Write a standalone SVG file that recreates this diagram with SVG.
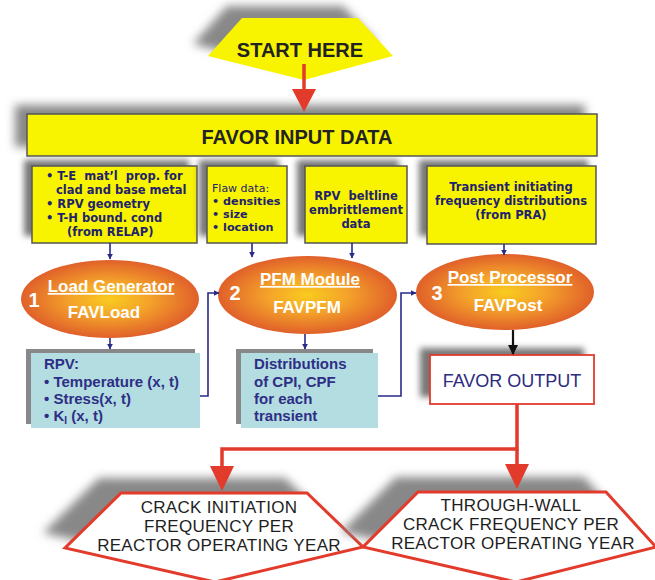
<svg xmlns="http://www.w3.org/2000/svg" width="655" height="580" viewBox="0 0 655 580">
<defs>
  <filter id="blur" x="-20%" y="-20%" width="140%" height="140%"><feGaussianBlur stdDeviation="3"/></filter>
  <filter id="blur2" x="-20%" y="-20%" width="140%" height="140%"><feGaussianBlur stdDeviation="5"/></filter>
  <radialGradient id="orange" cx="50%" cy="50%" r="50%">
    <stop offset="0" stop-color="#f9cc1e"/>
    <stop offset="0.45" stop-color="#f4a22a"/>
    <stop offset="1" stop-color="#e0602a"/>
  </radialGradient>
  <marker id="navyArrow" viewBox="0 0 10 10" refX="9" refY="5" markerWidth="6" markerHeight="6" markerUnits="userSpaceOnUse" orient="auto">
    <path d="M0,0 L10,5 L0,10 z" fill="#2a2a88"/>
  </marker>
  <marker id="blackArrow" viewBox="0 0 10 10" refX="9" refY="5" markerWidth="10" markerHeight="10" markerUnits="userSpaceOnUse" orient="auto">
    <path d="M0,0 L10,5 L0,10 z" fill="#111"/>
  </marker>
</defs>
<style>
  .yel { fill: #f8f400; stroke: #555; stroke-width: 1.5; }
  .shadow { fill: #777; filter: url(#blur); }
  .shadow2 { fill: #888; filter: url(#blur2); }
  .ytxt { font-family: "DejaVu Sans", Verdana, sans-serif; font-weight: bold; font-size: 11.5px; fill: #22226e; }
  .ytxt11 { font-family: "DejaVu Sans", Verdana, sans-serif; font-weight: bold; font-size: 11.2px; fill: #22226e; }
  .ytxtn { font-family: "DejaVu Sans", Verdana, sans-serif; font-size: 11px; fill: #22226e; }
  .big { font-family: "Liberation Sans", Arial, sans-serif; font-weight: bold; font-size: 20px; fill: #222; }
  .ell { fill: url(#orange); }
  .etxt { font-family: "Liberation Sans", Arial, sans-serif; font-weight: bold; font-size: 17px; fill: #fff; }
  .num { font-family: "Liberation Sans", Arial, sans-serif; font-weight: bold; font-size: 20px; fill: #fff; }
  .blue { fill: #b3dde0; }
  .bshadow { fill: #888; }
  .btxt { font-family: "Liberation Sans", Arial, sans-serif; font-weight: bold; font-size: 15px; fill: #2e2e86; }
  .hex { fill: #fff; stroke: #e23b2c; stroke-width: 3; stroke-linejoin: miter; }
  .htxt { font-family: "Liberation Sans", Arial, sans-serif; font-size: 17px; letter-spacing: 0.3px; fill: #1e1e1e; }
  .navy { fill: none; stroke: #2a2a88; stroke-width: 1.6; }
  .red { fill: none; stroke: #e23b2c; stroke-width: 3.5; }
</style>

<g id="start">
  <polygon class="shadow2" points="227,6 343,6 378,44 289,68 193,44"/>
  <polygon points="242,18 358,18 393,56 304,80 208,56" fill="#f8f400"/>
  <text class="big" x="300" y="57" text-anchor="middle">START HERE</text>
</g>

<g id="favor-input">
  <rect class="shadow2" x="15" y="105" width="570" height="42"/>
  <rect class="yel" x="27" y="114" width="570" height="42"/>
  <text class="big" x="297" y="144" text-anchor="middle">FAVOR INPUT DATA</text>
</g>

<g id="box-te">
  <rect class="shadow" x="24" y="160" width="165" height="76"/>
  <rect class="yel" x="32" y="166" width="165" height="77"/>
  <text class="ytxt" x="46" y="180" xml:space="preserve">• T-E  mat’l  prop. for</text>
  <text class="ytxt" x="56" y="194">clad and base metal</text>
  <text class="ytxt" x="46" y="208">• RPV geometry</text>
  <text class="ytxt" x="46" y="222">• T-H bound. cond</text>
  <text class="ytxt" x="67" y="236">(from RELAP)</text>
</g>

<g id="box-flaw">
  <rect class="shadow" x="199" y="160" width="80" height="76"/>
  <rect class="yel" x="207" y="166" width="80" height="77"/>
  <text class="ytxtn" x="212" y="192">Flaw data:</text>
  <text class="ytxt11" x="212" y="205">• densities</text>
  <text class="ytxt11" x="212" y="218">• size</text>
  <text class="ytxt11" x="212" y="231">• location</text>
</g>

<g id="box-rpv">
  <rect class="shadow" x="297" y="160" width="102" height="76"/>
  <rect class="yel" x="305" y="166" width="102" height="77"/>
  <text class="ytxt" x="356" y="200" text-anchor="middle" xml:space="preserve">RPV  beltline</text>
  <text class="ytxt" x="356" y="214" text-anchor="middle">embrittlement</text>
  <text class="ytxt" x="356" y="228" text-anchor="middle">data</text>
</g>

<g id="box-transient">
  <rect class="shadow" x="419" y="160" width="169" height="76"/>
  <rect class="yel" x="427" y="166" width="169" height="78"/>
  <text class="ytxt" x="511" y="191" text-anchor="middle">Transient initiating</text>
  <text class="ytxt" x="511" y="205" text-anchor="middle">frequency distributions</text>
  <text class="ytxt" x="511" y="219" text-anchor="middle">(from PRA)</text>
</g>

<g id="load-generator">
  <ellipse class="ell" cx="110" cy="299" rx="89" ry="39"/>
  <text class="etxt" x="111" y="292" text-anchor="middle" text-decoration="underline">Load Generator</text>
  <text class="etxt" x="104" y="318" text-anchor="middle">FAVLoad</text>
  <text class="num" x="34" y="307" text-anchor="middle">1</text>
</g>

<g id="pfm-module">
  <ellipse class="ell" cx="307.5" cy="295" rx="89.5" ry="39"/>
  <text class="etxt" x="310" y="285" text-anchor="middle" text-decoration="underline">PFM Module</text>
  <text class="etxt" x="307" y="313" text-anchor="middle">FAVPFM</text>
  <text class="num" x="235" y="300" text-anchor="middle">2</text>
</g>

<g id="post-processor">
  <ellipse class="ell" cx="505" cy="292" rx="89" ry="38"/>
  <text class="etxt" x="510" y="283" text-anchor="middle" text-decoration="underline">Post Processor</text>
  <text class="etxt" x="508" y="311" text-anchor="middle">FAVPost</text>
  <text class="num" x="437" y="300" text-anchor="middle">3</text>
</g>

<g id="rpv-output">
  <rect class="bshadow" x="26" y="349" width="169" height="75"/>
  <rect class="blue" x="31" y="353" width="169" height="75"/>
  <text class="btxt" x="44" y="369">RPV:</text>
  <text class="btxt" x="44" y="387">• Temperature (x, t)</text>
  <text class="btxt" x="44" y="404">• Stress(x, t)</text>
  <text class="btxt" x="44" y="421">• K<tspan font-size="10" dy="3">I</tspan><tspan dy="-3"> (x, t)</tspan></text>
</g>

<g id="distributions">
  <rect class="bshadow" x="236" y="349" width="137" height="75"/>
  <rect class="blue" x="241" y="353" width="137" height="75"/>
  <text class="btxt" x="254" y="369">Distributions</text>
  <text class="btxt" x="254" y="387">of CPI, CPF</text>
  <text class="btxt" x="254" y="404">for each</text>
  <text class="btxt" x="254" y="421">transient</text>
</g>

<g id="favor-output">
  <rect class="shadow" x="420" y="348" width="164" height="49"/>
  <rect x="430" y="355" width="164" height="49" fill="#fff" stroke="#e23b2c" stroke-width="1.8"/>
  <text x="512" y="387" text-anchor="middle" font-family="Liberation Sans, Arial, sans-serif" font-size="18" fill="#2b2b80">FAVOR OUTPUT</text>
</g>

<g id="crack-initiation">
  <polygon class="shadow2" points="99,478 285,478 341,532 193,566 43,533"/>
  <polygon class="hex" points="121,493 307,493 363,547 215,582 65,548"/>
  <text class="htxt" x="219" y="513" text-anchor="middle">CRACK INITIATION</text>
  <text class="htxt" x="219" y="532" text-anchor="middle">FREQUENCY PER</text>
  <text class="htxt" x="219" y="551" text-anchor="middle">REACTOR OPERATING YEAR</text>
</g>

<g id="through-wall">
  <polygon class="shadow2" points="396,477 584,477 633,532 494,566 341,532"/>
  <polygon class="hex" points="418,492 606,492 656,547 516,582 363,547"/>
  <text class="htxt" x="511" y="511" text-anchor="middle">THROUGH-WALL</text>
  <text class="htxt" x="511" y="530" text-anchor="middle">CRACK FREQUENCY PER</text>
  <text class="htxt" x="513" y="549" text-anchor="middle">REACTOR OPERATING YEAR</text>
</g>

<g id="connectors">
  <line x1="304" y1="64" x2="304" y2="92" stroke="#e23b2c" stroke-width="3.5"/>
  <polygon points="292,89 316,89 304,112" fill="#e23b2c"/>
  <line class="navy" x1="110" y1="243" x2="110" y2="259" marker-end="url(#navyArrow)"/>
  <line class="navy" x1="252" y1="243" x2="252" y2="257" marker-end="url(#navyArrow)"/>
  <line class="navy" x1="352" y1="243" x2="352" y2="258" marker-end="url(#navyArrow)"/>
  <line class="navy" x1="504" y1="244" x2="504" y2="255" marker-end="url(#navyArrow)"/>
  <line class="navy" x1="110" y1="338" x2="110" y2="349" marker-end="url(#navyArrow)"/>
  <line class="navy" x1="305" y1="334" x2="305" y2="349" marker-end="url(#navyArrow)"/>
  <line x1="513" y1="330" x2="513" y2="354" stroke="#111" stroke-width="2.2" marker-end="url(#blackArrow)"/>
  <polyline class="navy" points="200,396 208,396 208,293 219,293" marker-end="url(#navyArrow)"/>
  <polyline class="navy" points="378,396 401,396 401,293 416,293" marker-end="url(#navyArrow)"/>
  <polyline class="red" points="517,404 517,449 222,449 222,470"/>
  <line class="red" x1="517" y1="449" x2="517" y2="468"/>
  <polygon points="210,466 234,466 222,491" fill="#e23b2c"/>
  <polygon points="505,464 529,464 517,489" fill="#e23b2c"/>
</g>
</svg>
